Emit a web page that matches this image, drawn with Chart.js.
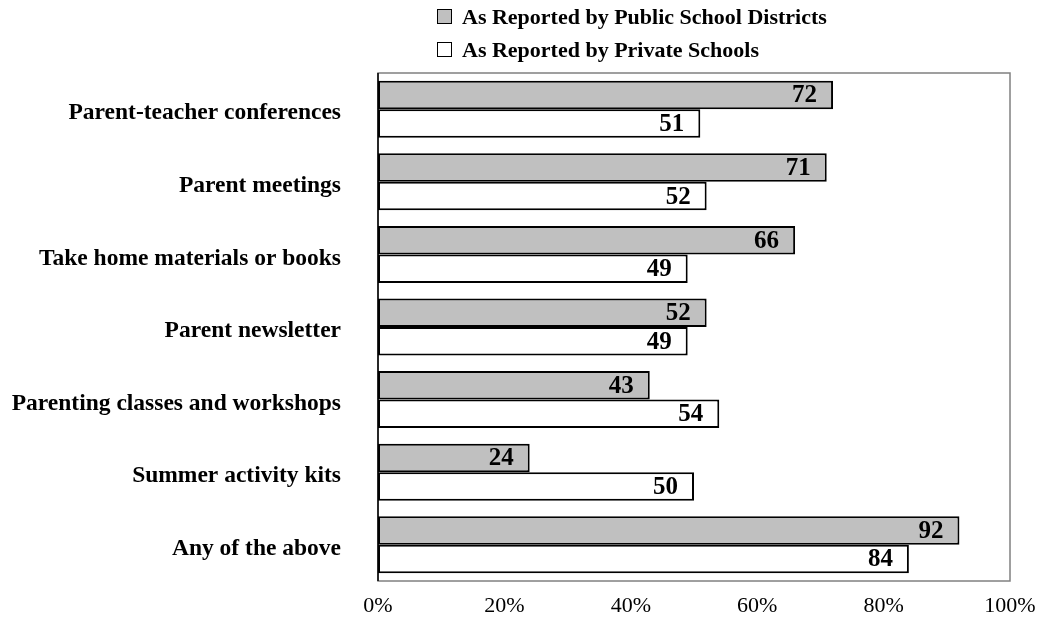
<!DOCTYPE html>
<html>
<head>
<meta charset="utf-8">
<script src="https://cdn.jsdelivr.net/npm/chart.js@4"></script>
<style>
  html, body { margin: 0; padding: 0; background: #fff; }
  #wrap { position: relative; width: 1045px; height: 618px; }
  #c { display: block; }
  #legend { position: absolute; left: 437px; top: 0px; font-family: "Liberation Serif", "Times New Roman", serif; font-weight: bold; font-size: 22px; color: #000; }
  .item { display: flex; align-items: center; height: 33px; white-space: nowrap; }
  .box { width: 13px; height: 13px; border: 1px solid #000; margin-right: 10px; flex: none; }
</style>
</head>
<body>
<div id="wrap">
  <canvas id="c" width="1045" height="618"></canvas>
  <div id="legend"></div>
</div>
<script>
const categories = [
  'Parent-teacher conferences',
  'Parent meetings',
  'Take home materials or books',
  'Parent newsletter',
  'Parenting classes and workshops',
  'Summer activity kits',
  'Any of the above'
];
const publicDistricts = [72, 71, 66, 52, 43, 24, 92];
const privateSchools = [51, 52, 49, 49, 54, 50, 84];
const seriesNames = ['As Reported by Public School Districts', 'As Reported by Private Schools'];
const seriesColors = ['#c0c0c0', '#ffffff'];
const xTicks = [0, 20, 40, 60, 80, 100];

const serif = '"Liberation Serif", "Times New Roman", serif';

// Legend as HTML above the plot
const legendEl = document.getElementById('legend');
seriesNames.forEach((name, i) => {
  const row = document.createElement('div');
  row.className = 'item';
  const box = document.createElement('span');
  box.className = 'box';
  box.style.background = seriesColors[i];
  row.appendChild(box);
  row.appendChild(document.createTextNode(name));
  legendEl.appendChild(row);
});

// Value labels at the inner end of each bar
const valueLabels = {
  id: 'valueLabels',
  afterDatasetsDraw(chart) {
    const ctx = chart.ctx;
    ctx.save();
    ctx.font = 'bold 25px ' + serif;
    ctx.fillStyle = '#000';
    ctx.textAlign = 'right';
    ctx.textBaseline = 'middle';
    chart.data.datasets.forEach((ds, di) => {
      chart.getDatasetMeta(di).data.forEach((bar, i) => {
        ctx.fillText(String(ds.data[i]), bar.x - 16, bar.y + 1);
      });
    });
    ctx.restore();
  }
};

// Grey frame around the plot area
const plotFrame = {
  id: 'plotFrame',
  beforeDatasetsDraw(chart) {
    const a = chart.chartArea;
    const ctx = chart.ctx;
    ctx.save();
    ctx.strokeStyle = '#808080';
    ctx.lineWidth = 1.5;
    ctx.strokeRect(a.left, a.top, a.right - a.left, a.bottom - a.top);
    ctx.strokeStyle = '#000';
    ctx.beginPath();
    ctx.moveTo(a.left, a.top);
    ctx.lineTo(a.left, a.bottom);
    ctx.stroke();
    ctx.restore();
  }
};

new Chart(document.getElementById('c'), {
  type: 'bar',
  data: {
    labels: categories,
    datasets: [
      { label: seriesNames[0], data: publicDistricts, backgroundColor: seriesColors[0], borderColor: '#000', borderWidth: 2, borderSkipped: false },
      { label: seriesNames[1], data: privateSchools, backgroundColor: seriesColors[1], borderColor: '#000', borderWidth: 2, borderSkipped: false }
    ]
  },
  options: {
    indexAxis: 'y',
    responsive: false,
    animation: false,
    layout: { padding: { top: 73, right: 35, left: 0, bottom: 0 } },
    datasets: { bar: { categoryPercentage: 0.785, barPercentage: 1.0 } },
    plugins: { legend: { display: false }, tooltip: { enabled: false } },
    scales: {
      x: {
        min: 0, max: 100,
        afterBuildTicks(scale) { scale.ticks = xTicks.map(v => ({ value: v })); },
        afterFit(scale) { scale.height = 37; scale.paddingLeft = 0; scale.paddingRight = 0; },
        grid: { display: false, drawTicks: false },
        border: { display: false },
        ticks: {
          padding: 12,
          color: '#000',
          font: { family: serif, size: 22 },
          callback: v => v + '%'
        }
      },
      y: {
        afterFit(scale) { scale.width = 378; scale.paddingTop = 0; scale.paddingBottom = 0; },
        grid: { display: false, drawTicks: false },
        border: { display: false },
        ticks: {
          padding: 37,
          labelOffset: 4,
          color: '#000',
          font: { family: serif, size: 23.5, weight: 'bold' }
        }
      }
    }
  },
  plugins: [plotFrame, valueLabels]
});
</script>
</body>
</html>
